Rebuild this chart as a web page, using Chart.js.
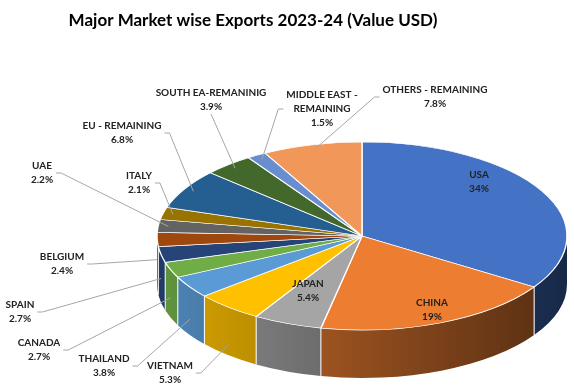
<!DOCTYPE html>
<html>
<head>
<meta charset="utf-8">
<script src="https://cdn.jsdelivr.net/npm/chart.js@4.4.1/dist/chart.umd.min.js"></script>
<style>
  html, body { margin: 0; padding: 0; background: #ffffff; }
  #wrap { width: 574px; height: 392px; }
</style>
</head>
<body>
<div id="wrap"><canvas id="c" width="574" height="392"></canvas></div>
<script>
// ---- data ----
const categories = ['USA', 'CHINA', 'JAPAN', 'VIETNAM', 'THAILAND', 'CANADA', 'SPAIN', 'BELGIUM',
  'UAE', 'ITALY', 'EU - REMAINING', 'SOUTH EA-REMANINIG', 'MIDDLE EAST - REMAINING', 'OTHERS - REMAINING'];
const shareValues = [34, 19, 5.4, 5.3, 3.8, 2.7, 2.7, 2.4, 2.2, 2.1, 6.8, 3.9, 1.5, 7.8];
const chartTitle = 'Major Market wise Exports 2023-24 (Value USD)';

// ---- styles / layout ----
const sliceColors = ['#4472C4', '#ED7D31', '#A5A5A5', '#FFC000', '#5B9BD5', '#70AD47', '#264478',
  '#9E480E', '#636363', '#997300', '#255E91', '#43682B', '#698ED0', '#F1975A'];
const labelCenters = [[479, 182], [432, 310], [308, 291], [170, 373], [104, 366], [39, 350], [20, 312],
  [62, 264], [42, 173], [139, 183], [122, 133], [211, 100], [322, 109], [435, 97]];
const insideLabels = [0, 1, 2];

function shade(hex, f) {
  const n = parseInt(hex.slice(1), 16);
  const r = (n >> 16) & 255, g = (n >> 8) & 255, b = n & 255;
  return 'rgb(' + Math.round(r * f) + ',' + Math.round(g * f) + ',' + Math.round(b * f) + ')';
}
function wrapName(name) {
  if (name.length > 20 && name.indexOf(' - ') > 0) {
    const k = name.indexOf(' - ');
    return [name.slice(0, k + 2), name.slice(k + 3)];
  }
  return [name];
}

const pie3d = {
  id: 'pie3d',
  beforeDatasetsDraw(chart, args, o) {
    const ctx = chart.ctx;
    const arcs = chart.getDatasetMeta(0).data;
    const colors = chart.data.datasets[0].backgroundColor;
    const { cx, cy, rx, ry, depth } = o;
    const TAU = Math.PI * 2;

    // side walls (front half of the ellipse only)
    arcs.forEach((arc, i) => {
      const grad = ctx.createLinearGradient(cx - rx, 0, cx + rx, 0);
      grad.addColorStop(0, shade(colors[i], 0.86));
      grad.addColorStop(1, shade(colors[i], 0.36));
      for (let k = -1; k <= 2; k++) {
        const lo = Math.max(arc.startAngle, k * TAU);
        const hi = Math.min(arc.endAngle, k * TAU + Math.PI);
        if (hi <= lo) continue;
        ctx.beginPath();
        ctx.ellipse(cx, cy, rx, ry, 0, lo, hi, false);
        ctx.ellipse(cx, cy + depth, rx, ry, 0, hi, lo, true);
        ctx.closePath();
        ctx.fillStyle = grad;
        ctx.fill();
      }
    });
    ctx.save();
    ctx.strokeStyle = '#ffffff';
    ctx.lineWidth = 1;
    arcs.forEach(arc => {
      const a = arc.startAngle, s = Math.sin(a);
      if (s > 0) {
        const x = cx + rx * Math.cos(a), y = cy + ry * s;
        ctx.beginPath(); ctx.moveTo(x, y); ctx.lineTo(x, y + depth); ctx.stroke();
      }
    });
    ctx.restore();

    // top face: library arcs, tilted
    const ax = arcs[0].x, ay = arcs[0].y, r = arcs[0].outerRadius;
    ctx.save();
    ctx.translate(cx, cy);
    ctx.scale(rx / r, ry / r);
    ctx.translate(-ax, -ay);
    arcs.forEach(a => a.draw(ctx));
    ctx.restore();

    // labels + leader lines
    ctx.save();
    ctx.font = o.labelFont;
    ctx.textAlign = 'center';
    ctx.textBaseline = 'middle';
    const lh = o.lineHeight;
    arcs.forEach((arc, i) => {
      const lines = wrapName(chart.data.labels[i]).concat([chart.data.datasets[0].data[i] + '%']);
      const [lx, ly] = o.labelCenters[i];
      const top = ly - lh * lines.length / 2;
      if (!o.insideLabels.includes(i)) {
        const mid = (arc.startAngle + arc.endAngle) / 2;
        const s = Math.sin(mid), c = Math.cos(mid);
        let tx, ty;
        if (s > 0) { tx = cx + rx * c; ty = cy + ry * s + depth * (0.4 + 0.5 * s); }
        else { tx = cx + rx * 0.95 * c; ty = cy + ry * 0.95 * s; }
        const w = Math.max(...lines.map(t => ctx.measureText(t).width));
        const left = lx - w / 2, right = lx + w / 2, bottom = top + lh * lines.length;
        let sx, sy, kx = null;
        if (tx > right) { sx = right + 3; sy = ly; kx = sx + 5; }
        else if (tx < left) { sx = left - 3; sy = ly; kx = sx - 5; }
        else { sx = lx; sy = bottom; }
        ctx.strokeStyle = o.leaderColor;
        ctx.lineWidth = 1;
        ctx.beginPath();
        ctx.moveTo(sx, sy);
        if (kx !== null) ctx.lineTo(kx, sy);
        ctx.lineTo(tx, ty);
        ctx.stroke();
      }
      ctx.fillStyle = o.labelColor;
      lines.forEach((t, j) => ctx.fillText(t, lx, top + lh * (j + 0.5)));
    });
    ctx.restore();
    return false;
  }
};

new Chart(document.getElementById('c'), {
  type: 'pie',
  data: {
    labels: categories,
    datasets: [{
      data: shareValues,
      backgroundColor: sliceColors,
      borderColor: '#ffffff',
      borderWidth: 1.2
    }]
  },
  options: {
    responsive: false,
    animation: false,
    devicePixelRatio: 1,
    layout: { padding: { left: 0, right: 68, top: 0, bottom: 0 } },
    plugins: {
      legend: { display: false },
      tooltip: { enabled: false },
      title: {
        display: true,
        text: chartTitle,
        color: '#000000',
        font: { family: 'Lato', size: 17, weight: 'bold' },
        padding: { top: 10, bottom: 10 }
      },
      pie3d: {
        cx: 362, cy: 236, rx: 205, ry: 94, depth: 48,
        labelCenters: labelCenters,
        insideLabels: insideLabels,
        labelFont: 'bold 10px Lato',
        labelColor: '#222222',
        leaderColor: '#A6A6A6',
        lineHeight: 14
      }
    }
  },
  plugins: [pie3d]
});
</script>
</body>
</html>
